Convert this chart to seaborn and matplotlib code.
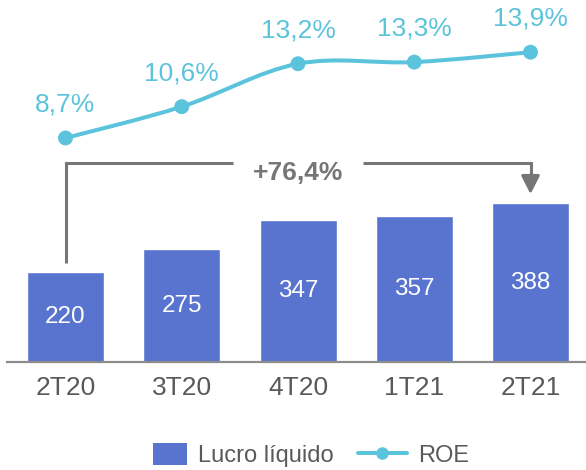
import numpy as np
import matplotlib
matplotlib.use("Agg")
import matplotlib.pyplot as plt
from matplotlib.path import Path
from matplotlib.patches import PathPatch, Patch, Rectangle
from matplotlib.lines import Line2D
from matplotlib.legend_handler import HandlerPatch
import seaborn as sns
import pandas as pd

quarters = ["2T20", "3T20", "4T20", "1T21", "2T21"]
lucro = [220, 275, 347, 357, 388]
roe = [8.7, 10.6, 13.2, 13.3, 13.9]
roe_labels = ["8,7%", "10,6%", "13,2%", "13,3%", "13,9%"]
growth_label = "+76,4%"

BAR = "#5874CF"
LINE = "#5BC3DB"
GRAY = "#767676"
TXT = "#595959"

sns.set_theme(style="white")
plt.rcParams["font.family"] = ["Liberation Sans", "DejaVu Sans"]

fig = plt.figure(figsize=(5.86, 4.70), dpi=100)
ax = fig.add_axes([7 / 586, 108 / 470, 579 / 586, 362 / 470])

df = pd.DataFrame({"q": quarters, "v": lucro})
sns.barplot(data=df, x="q", y="v", color=BAR, saturation=1, width=77 / 116.25, ax=ax)

sp = 116.25
ax.set_xlim((7 - 65.5) / sp, (586 - 65.5) / sp)
ax.set_ylim(0, 362 / 0.4095)
for s in ["top", "right", "left"]:
    ax.spines[s].set_visible(False)
ax.spines["bottom"].set_color("#8C8C8C")
ax.spines["bottom"].set_linewidth(1.6)
ax.set_yticks([])
ax.set_xlabel("")
ax.set_ylabel("")
ax.tick_params(axis="x", length=0, pad=10, labelsize=19, labelcolor=TXT)

for i, v in enumerate(lucro):
    ax.text(i, v / 2, str(v), ha="center", va="center", color="white", fontsize=17.5)

# growth bracket
top = max(lucro) * 1.25
start = lucro[0] + 22
ax.plot([0, 0, 1.44], [start, top, top], color=GRAY, lw=2.2, solid_joinstyle="miter", solid_capstyle="butt")
ax.plot([2.56, 4, 4], [top, top, top - 30], color=GRAY, lw=2.2, solid_joinstyle="miter", solid_capstyle="butt")
ax.annotate("", xy=(4, lucro[-1] + 22), xytext=(4, top - 28),
            arrowprops=dict(arrowstyle="-|>,head_length=0.55,head_width=0.28", color=GRAY,
                            lw=2.2, mutation_scale=20, shrinkA=0, shrinkB=0))
ax.text(2, top - 24, growth_label, ha="center", va="center", color=GRAY, fontsize=19, fontweight="bold")

# ROE line
ax2 = ax.twinx()
ax2.set_ylim(8.7 - (362 - 138) / 16.5, 8.7 + 138 / 16.5)
ax2.set_axis_off()
xs = np.arange(len(roe), dtype=float)
ys = np.array(roe, dtype=float)
verts = [(xs[0], ys[0])]
codes = [Path.MOVETO]
n = len(xs)
for i in range(n - 1):
    p0 = np.array([xs[max(i - 1, 0)], ys[max(i - 1, 0)]])
    p1 = np.array([xs[i], ys[i]])
    p2 = np.array([xs[i + 1], ys[i + 1]])
    p3 = np.array([xs[min(i + 2, n - 1)], ys[min(i + 2, n - 1)]])
    c1 = p1 + (p2 - p0) / 6
    c2 = p2 - (p3 - p1) / 6
    verts += [tuple(c1), tuple(c2), tuple(p2)]
    codes += [Path.CURVE4] * 3
ax2.add_patch(PathPatch(Path(verts, codes), fill=False, edgecolor=LINE, lw=2.9, capstyle="round"))
sns.scatterplot(x=xs, y=ys, color=LINE, s=115, edgecolor="none", ax=ax2, zorder=5, legend=False)
ax2.set_xlim(ax.get_xlim())
for i, (v, lab) in enumerate(zip(roe, roe_labels)):
    ax2.annotate(lab, (i, v), xytext=(0, 24), textcoords="offset points",
                 ha="center", va="center", color=LINE, fontsize=19)


def right_rect(legend, orig_handle, xdescent, ydescent, width, height, fontsize):
    w = width * 34 / 49
    return Rectangle((-xdescent + width - w, -ydescent), w, height)


handles = [Patch(facecolor=BAR, edgecolor="none"),
           Line2D([0], [0], color=LINE, lw=2.9, marker="o", markersize=9, markeredgewidth=0)]
leg = fig.legend(handles, ["Lucro líquido", "ROE"], loc="center",
                 bbox_to_anchor=(303.5 / 586, 1 - 455 / 470), ncol=2, frameon=False,
                 fontsize=17, handlelength=2.075, handleheight=1.1, handletextpad=0.48,
                 columnspacing=1.0, borderpad=0,
                 handler_map={Patch: HandlerPatch(patch_func=right_rect)})
for t in leg.get_texts():
    t.set_color(TXT)

fig.savefig("out.png", dpi=100)
